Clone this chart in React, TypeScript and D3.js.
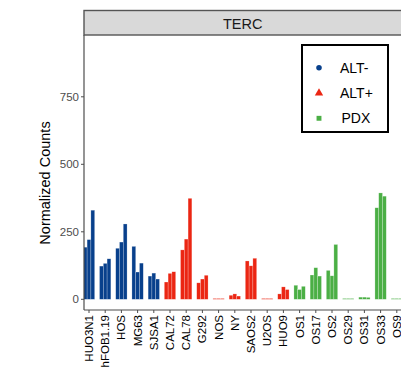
import React from "react";
import * as d3 from "d3";

const categories = ["HUO3N1","hFOB1.19","HOS","MG63","SJSA1","CAL72","CAL78","G292","NOS","NY","SAOS2","U2OS","HUO9","OS1","OS17","OS2","OS29","OS31","OS33","OS9"];
const groups = ["ALT-","ALT-","ALT-","ALT-","ALT-","ALT+","ALT+","ALT+","ALT+","ALT+","ALT+","ALT+","ALT+","PDX","PDX","PDX","PDX","PDX","PDX","PDX"];
const rep1 = [193,123,189,196,86,64,183,61,3,15,142,3,20,52,90,107,3,8,339,3];
const rep2 = [221,133,212,101,97,96,223,75,3,20,124,3,46,36,117,87,3,8,394,3];
const rep3 = [330,150,279,134,75,102,374,89,3,12,152,3,36,48,86,203,3,7,382,3];
const yTicks = [0,250,500,750];
const legendLabels = ["ALT-","ALT+","PDX"];
const colors: Record<string,string> = {"ALT-":"#08408C","ALT+":"#EB2613","PDX":"#4BAF45"};

export default function App() {
  const W = 401, H = 371;
  const panelL = 84, panelR = 403, panelT = 35, panelB = 310;
  const step = 16.2;
  const x = d3.scaleBand<string>().domain(categories).range([89 - step/2, 89 - step/2 + step*categories.length]).padding(0);
  const sub = d3.scaleBand<string>().domain(["r1","r2","r3"]).range([-step*0.35, step*0.35]).padding(0);
  const y = d3.scaleLinear().domain([0, 750]).range([299.3, 96.8]);
  const reps = [rep1, rep2, rep3];
  const repKeys = ["r1","r2","r3"];
  const font = "'Liberation Sans', Arial, sans-serif";

  return (
    <svg width={W} height={H} style={{position:"absolute", left:0, top:0, background:"#fff"}} fontFamily={font}>
      <defs>
        <clipPath id="panelClip"><rect x={panelL} y={panelT} width={panelR-panelL} height={panelB-panelT} /></clipPath>
      </defs>
      {/* strip */}
      <rect x={panelL} y={10.5} width={panelR-panelL} height={24.5} fill="#D9D9D9" stroke="#555" strokeWidth={1.4} />
      <text x={(panelL+401.5)/2} y={28.5} textAnchor="middle" fontSize={14.5} fill="#1A1A1A">TERC</text>
      {/* bars */}
      <g clipPath="url(#panelClip)">
        {categories.map((c, i) => reps.map((r, k) => {
          const cx = (x(c) as number) + x.bandwidth()/2;
          const bx = cx + (sub(repKeys[k]) as number);
          const v = r[i];
          return <rect key={c+k} x={bx} y={y(v)} width={sub.bandwidth()} height={y(0)-y(v)}
            fill={colors[groups[i]]} stroke="#fff" strokeOpacity={0.45} strokeWidth={0.5} />;
        }))}
      </g>
      {/* axes lines */}
      <line x1={panelL} x2={panelL} y1={panelT} y2={panelB} stroke="#4D4D4D" strokeWidth={1.2} />
      <line x1={panelL} x2={panelR} y1={panelB} y2={panelB} stroke="#4D4D4D" strokeWidth={1.2} />
      {/* y ticks */}
      {yTicks.map(t => (
        <g key={t}>
          <line x1={panelL-3} x2={panelL} y1={y(t)} y2={y(t)} stroke="#4D4D4D" strokeWidth={1} />
          <text x={panelL-5} y={y(t)} dy="0.35em" textAnchor="end" fontSize={11.5} fill="#4D4D4D">{t}</text>
        </g>
      ))}
      {/* x ticks */}
      {categories.map(c => {
        const cx = (x(c) as number) + x.bandwidth()/2;
        return (
          <g key={c}>
            <line x1={cx} x2={cx} y1={panelB} y2={panelB+3} stroke="#4D4D4D" strokeWidth={1} />
            <text transform={`translate(${cx},${panelB+5}) rotate(-90)`} textAnchor="end" dy="0.35em" fontSize={11.5} fill="#000">{c}</text>
          </g>
        );
      })}
      {/* y title */}
      <text transform={`translate(${49.5},${183}) rotate(-90)`} textAnchor="middle" fontSize={14.5} fill="#000">Normalized Counts</text>
      {/* legend */}
      <rect x={302} y={45} width={86} height={87} fill="#fff" stroke="#000" strokeWidth={2} />
      {legendLabels.map((l, i) => {
        const ly = 67.7 + i*25.3;
        const sym = i === 0 ? d3.symbolCircle : i === 1 ? d3.symbolTriangle : d3.symbolSquare;
        const p = d3.symbol().type(sym).size(i === 1 ? 30 : 24)();
        return (
          <g key={l}>
            <path d={p as string} transform={`translate(319,${ly})`} fill={colors[l]} />
            <text x={i === 2 ? 341.5 : 340} y={ly} dy="0.35em" fontSize={14} fill="#000">{l}</text>
          </g>
        );
      })}
    </svg>
  );
}
